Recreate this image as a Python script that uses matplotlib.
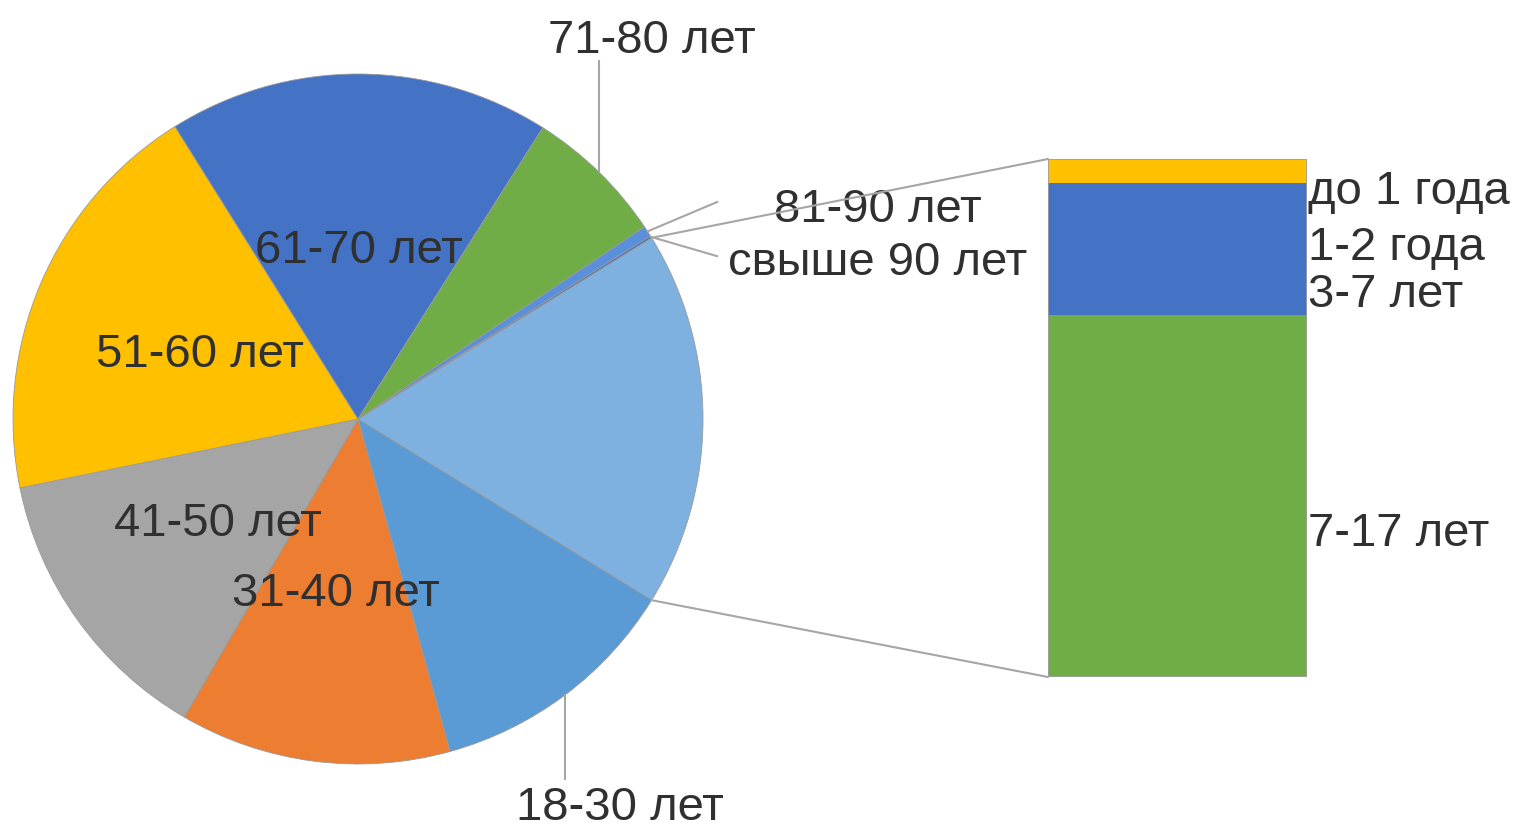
import numpy as np
import matplotlib.pyplot as plt
from matplotlib.patches import ConnectionPatch
from matplotlib.transforms import offset_copy

plt.rcParams['font.family'] = ['Liberation Sans', 'DejaVu Sans']

# pie part (percent of all people)
pie_labels = ['18-30 лет', '31-40 лет', '41-50 лет', '51-60 лет',
              '61-70 лет', '71-80 лет', '81-90 лет', 'свыше 90 лет']
pie_values = [11.9, 12.7, 13.4, 19.3, 17.9, 6.6, 0.5, 0.1]
pie_colors = ['#5b9bd5', '#ed7d31', '#a5a5a5', '#ffc000',
              '#4472c4', '#70ad47', '#5a8fdc', '#4472c4']

# bar part (the "other" slice split up)
bar_labels = ['до 1 года', '1-2 года', '3-7 лет', '7-17 лет']
bar_values = [0.8, 2.3, 2.2, 12.3]
bar_colors = ['#ffc000', '#4472c4', '#4472c4', '#70ad47']
other_color = '#7fb1e0'

text_color = '#303030'
line_color = '#a6a6a6'
fs = 34

W, H = 1519, 828
fig = plt.figure(figsize=(W / 100, H / 100), dpi=100)

# pie: center (358,420) px, radius 345 px
ax_pie = fig.add_axes([13 / W, (H - 765) / H, 690 / W, 690 / H])
other = sum(bar_values)
values = [other] + pie_values
colors = [other_color] + pie_colors
total = sum(values)
start = other / total * 180
wedges, _ = ax_pie.pie(values, colors=colors, startangle=start, counterclock=False,
                       radius=1, wedgeprops=dict(edgecolor='#9a9a9a', linewidth=0.6))
ax_pie.set_xlim(-1, 1)
ax_pie.set_ylim(-1, 1)
ax_pie.set_aspect('equal')
ax_pie.axis('off')
tp = offset_copy(ax_pie.transData, fig=fig, y=-3, units='dots')

def mid(w):
  return np.deg2rad((w.theta1 + w.theta2) / 2)

# inner labels
for i in [1, 2, 3, 4]:
  a = mid(wedges[i + 1])
  ax_pie.text(0.5 * np.cos(a), 0.5 * np.sin(a), pie_labels[i], ha='center', va='center',
              fontsize=fs, color=text_color, transform=tp)

# 18-30 and 71-80 with vertical leader lines
a = mid(wedges[1])
ax_pie.plot([np.cos(a), np.cos(a)], [np.sin(a), -1.043], color=line_color, lw=1.5, clip_on=False)
ax_pie.text(0.759, -1.116, pie_labels[0], ha='center', va='center', fontsize=fs,
            color=text_color, transform=tp)
a = mid(wedges[6])
ax_pie.plot([np.cos(a), np.cos(a)], [np.sin(a), 1.038], color=line_color, lw=1.5, clip_on=False)
ax_pie.text(0.852, 1.107, pie_labels[5], ha='center', va='center', fontsize=fs,
            color=text_color, transform=tp)

# small slices
for i, (lx, ly, tx, ty) in zip([6, 7], [(1.041, 0.629, 1.507, 0.617), (1.041, 0.472, 1.507, 0.464)]):
  a = mid(wedges[i + 1])
  ax_pie.plot([np.cos(a), lx], [np.sin(a), ly], color=line_color, lw=1.5, clip_on=False)
  ax_pie.text(tx, ty, pie_labels[i], ha='center', va='center', fontsize=fs,
              color=text_color, transform=tp)

# stacked bar
ax_bar = fig.add_axes([1048 / W, (H - 678) / H, 259 / W, 518 / H])
bottom = other
for lab, v, c in zip(bar_labels, bar_values, bar_colors):
  bottom -= v
  ax_bar.bar(0, v, width=1, bottom=bottom, color=c, edgecolor='none')
ax_bar.bar(0, other, width=1, color='none', edgecolor='#a0a0a0', lw=1.2)
ax_bar.set_xlim(-0.5, 0.5)
ax_bar.set_ylim(0, other)
ax_bar.axis('off')
tb = offset_copy(ax_bar.transData, fig=fig, y=-3, units='dots')

bar_label_y = [16.6, 14.7, 13.1, 5.0]
for lab, y in zip(bar_labels, bar_label_y):
  ax_bar.text(0.505, y, lab, ha='left', va='center', fontsize=fs, color=text_color,
              clip_on=False, transform=tb)

# connector lines pie -> bar
t1 = np.deg2rad(wedges[0].theta2)
t2 = np.deg2rad(wedges[0].theta1)
con = ConnectionPatch(xyA=(np.cos(t1), np.sin(t1)), coordsA=ax_pie.transData,
                      xyB=(-0.5, other), coordsB=ax_bar.transData, color=line_color, lw=1.5)
fig.add_artist(con)
con = ConnectionPatch(xyA=(np.cos(t2), np.sin(t2)), coordsA=ax_pie.transData,
                      xyB=(-0.5, 0), coordsB=ax_bar.transData, color=line_color, lw=1.5)
fig.add_artist(con)

fig.savefig('out.png', dpi=100)
